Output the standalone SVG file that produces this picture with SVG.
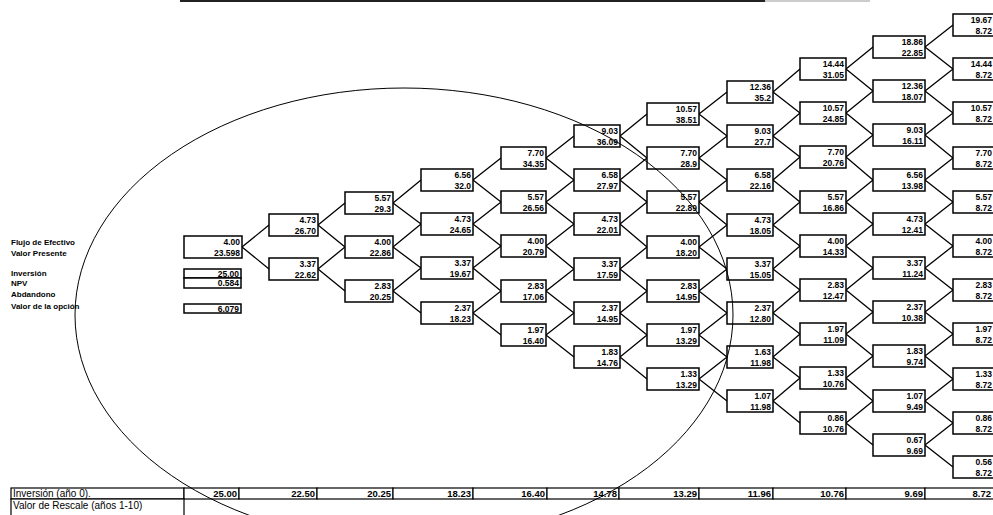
<svg xmlns="http://www.w3.org/2000/svg" width="993" height="515" viewBox="0 0 993 515">
<style>
text{font-family:"Liberation Sans",Arial,sans-serif;fill:#000}
.n rect{fill:#fff;stroke:#000;stroke-width:1.5}
.n text{font-size:8.5px;font-weight:bold;text-anchor:end}
.lbl{font-size:8px;font-weight:bold}
.sb{fill:#fff;stroke:#000;stroke-width:1.5}
.sv{font-size:8.5px;font-weight:bold;text-anchor:end}
.cell{fill:#fff;stroke:#000;stroke-width:1.2}
.tv{font-size:9.5px;font-weight:bold;text-anchor:end}
.tl{font-size:10px}
#edges path{fill:none;stroke:#000;stroke-width:1.3;stroke-linejoin:round}
</style>
<rect width="993" height="515" fill="#fff"/>
<line x1="180" y1="1" x2="765" y2="1" stroke="#222" stroke-width="2"/>
<line x1="765" y1="1" x2="870" y2="1" stroke="#ccc" stroke-width="2"/>

<g id="edges">
<path d="M269 225 L242 247 L269 269"/>
<path d="M345 203 L318 225 L345 247 L318 269 L345 291"/>
<path d="M421 180 L393 203 L421 224 L393 247 L421 268 L393 291 L421 313"/>
<path d="M501 158 L473 180 L501 202 L473 224 L501 246 L473 268 L501 291 L473 313 L501 335"/>
<path d="M574 136 L546 158 L574 180 L546 202 L574 224 L546 246 L574 269 L546 291 L574 313 L546 335 L574 357"/>
<path d="M647 114 L620 136 L647 158 L620 180 L647 202 L620 224 L647 247 L620 269 L647 291 L620 313 L647 335 L620 357 L647 379"/>
<path d="M727 92 L699 114 L727 136 L699 158 L727 180 L699 202 L727 225 L699 247 L727 269 L699 291 L727 313 L699 335 L727 357 L699 379 L727 401"/>
<path d="M800 69 L773 92 L800 113 L773 136 L800 157 L773 180 L800 202 L773 225 L800 246 L773 269 L800 290 L773 313 L800 334 L773 357 L800 378 L773 401 L800 423"/>
<path d="M873 47 L846 69 L873 91 L846 113 L873 135 L846 157 L873 180 L846 202 L873 224 L846 246 L873 268 L846 290 L873 312 L846 334 L873 356 L846 378 L873 401 L846 423 L873 445"/>
<path d="M953 25 L925 47 L953 69 L925 91 L953 113 L925 135 L953 158 L925 180 L953 202 L925 224 L953 246 L925 268 L953 290 L925 312 L953 334 L925 356 L953 379 L925 401 L953 423 L925 445 L953 467"/>
</g>

<!-- column 0 -->
<g id="n0-0" class="n" transform="translate(184,236)"><rect width="58" height="22"/><text x="56" y="9">4.00</text><text x="56" y="19.5">23.598</text></g>
<!-- column 1 -->
<g id="n1-0" class="n" transform="translate(269,214)"><rect width="49" height="22"/><text x="47" y="9">4.73</text><text x="47" y="19.5">26.70</text></g>
<g id="n1-1" class="n" transform="translate(269,258)"><rect width="49" height="22"/><text x="47" y="9">3.37</text><text x="47" y="19.5">22.62</text></g>
<!-- column 2 -->
<g id="n2-0" class="n" transform="translate(345,192)"><rect width="48" height="22"/><text x="46" y="9">5.57</text><text x="46" y="19.5">29.3</text></g>
<g id="n2-1" class="n" transform="translate(345,236)"><rect width="48" height="22"/><text x="46" y="9">4.00</text><text x="46" y="19.5">22.86</text></g>
<g id="n2-2" class="n" transform="translate(345,280)"><rect width="48" height="22"/><text x="46" y="9">2.83</text><text x="46" y="19.5">20.25</text></g>
<!-- column 3 -->
<g id="n3-0" class="n" transform="translate(421,169)"><rect width="52" height="22"/><text x="50" y="9">6.56</text><text x="50" y="19.5">32.0</text></g>
<g id="n3-1" class="n" transform="translate(421,213)"><rect width="52" height="22"/><text x="50" y="9">4.73</text><text x="50" y="19.5">24.65</text></g>
<g id="n3-2" class="n" transform="translate(421,257)"><rect width="52" height="22"/><text x="50" y="9">3.37</text><text x="50" y="19.5">19.67</text></g>
<g id="n3-3" class="n" transform="translate(421,302)"><rect width="52" height="22"/><text x="50" y="9">2.37</text><text x="50" y="19.5">18.23</text></g>
<!-- column 4 -->
<g id="n4-0" class="n" transform="translate(501,147)"><rect width="45" height="22"/><text x="43" y="9">7.70</text><text x="43" y="19.5">34.35</text></g>
<g id="n4-1" class="n" transform="translate(501,191)"><rect width="45" height="22"/><text x="43" y="9">5.57</text><text x="43" y="19.5">26.56</text></g>
<g id="n4-2" class="n" transform="translate(501,235)"><rect width="45" height="22"/><text x="43" y="9">4.00</text><text x="43" y="19.5">20.79</text></g>
<g id="n4-3" class="n" transform="translate(501,280)"><rect width="45" height="22"/><text x="43" y="9">2.83</text><text x="43" y="19.5">17.06</text></g>
<g id="n4-4" class="n" transform="translate(501,324)"><rect width="45" height="22"/><text x="43" y="9">1.97</text><text x="43" y="19.5">16.40</text></g>
<!-- column 5 -->
<g id="n5-0" class="n" transform="translate(574,125)"><rect width="46" height="22"/><text x="44" y="9">9.03</text><text x="44" y="19.5">36.09</text></g>
<g id="n5-1" class="n" transform="translate(574,169)"><rect width="46" height="22"/><text x="44" y="9">6.58</text><text x="44" y="19.5">27.97</text></g>
<g id="n5-2" class="n" transform="translate(574,213)"><rect width="46" height="22"/><text x="44" y="9">4.73</text><text x="44" y="19.5">22.01</text></g>
<g id="n5-3" class="n" transform="translate(574,258)"><rect width="46" height="22"/><text x="44" y="9">3.37</text><text x="44" y="19.5">17.59</text></g>
<g id="n5-4" class="n" transform="translate(574,302)"><rect width="46" height="22"/><text x="44" y="9">2.37</text><text x="44" y="19.5">14.95</text></g>
<g id="n5-5" class="n" transform="translate(574,346)"><rect width="46" height="22"/><text x="44" y="9">1.83</text><text x="44" y="19.5">14.76</text></g>
<!-- column 6 -->
<g id="n6-0" class="n" transform="translate(647,103)"><rect width="52" height="22"/><text x="50" y="9">10.57</text><text x="50" y="19.5">38.51</text></g>
<g id="n6-1" class="n" transform="translate(647,147)"><rect width="52" height="22"/><text x="50" y="9">7.70</text><text x="50" y="19.5">28.9</text></g>
<g id="n6-2" class="n" transform="translate(647,191)"><rect width="52" height="22"/><text x="50" y="9">5.57</text><text x="50" y="19.5">22.89</text></g>
<g id="n6-3" class="n" transform="translate(647,236)"><rect width="52" height="22"/><text x="50" y="9">4.00</text><text x="50" y="19.5">18.20</text></g>
<g id="n6-4" class="n" transform="translate(647,280)"><rect width="52" height="22"/><text x="50" y="9">2.83</text><text x="50" y="19.5">14.95</text></g>
<g id="n6-5" class="n" transform="translate(647,324)"><rect width="52" height="22"/><text x="50" y="9">1.97</text><text x="50" y="19.5">13.29</text></g>
<g id="n6-6" class="n" transform="translate(647,368)"><rect width="52" height="22"/><text x="50" y="9">1.33</text><text x="50" y="19.5">13.29</text></g>
<!-- column 7 -->
<g id="n7-0" class="n" transform="translate(727,81)"><rect width="46" height="22"/><text x="44" y="9">12.36</text><text x="44" y="19.5">35.2</text></g>
<g id="n7-1" class="n" transform="translate(727,125)"><rect width="46" height="22"/><text x="44" y="9">9.03</text><text x="44" y="19.5">27.7</text></g>
<g id="n7-2" class="n" transform="translate(727,169)"><rect width="46" height="22"/><text x="44" y="9">6.58</text><text x="44" y="19.5">22.16</text></g>
<g id="n7-3" class="n" transform="translate(727,214)"><rect width="46" height="22"/><text x="44" y="9">4.73</text><text x="44" y="19.5">18.05</text></g>
<g id="n7-4" class="n" transform="translate(727,258)"><rect width="46" height="22"/><text x="44" y="9">3.37</text><text x="44" y="19.5">15.05</text></g>
<g id="n7-5" class="n" transform="translate(727,302)"><rect width="46" height="22"/><text x="44" y="9">2.37</text><text x="44" y="19.5">12.80</text></g>
<g id="n7-6" class="n" transform="translate(727,346)"><rect width="46" height="22"/><text x="44" y="9">1.63</text><text x="44" y="19.5">11.98</text></g>
<g id="n7-7" class="n" transform="translate(727,390)"><rect width="46" height="22"/><text x="44" y="9">1.07</text><text x="44" y="19.5">11.98</text></g>
<!-- column 8 -->
<g id="n8-0" class="n" transform="translate(800,58)"><rect width="46" height="22"/><text x="44" y="9">14.44</text><text x="44" y="19.5">31.05</text></g>
<g id="n8-1" class="n" transform="translate(800,102)"><rect width="46" height="22"/><text x="44" y="9">10.57</text><text x="44" y="19.5">24.85</text></g>
<g id="n8-2" class="n" transform="translate(800,146)"><rect width="46" height="22"/><text x="44" y="9">7.70</text><text x="44" y="19.5">20.76</text></g>
<g id="n8-3" class="n" transform="translate(800,191)"><rect width="46" height="22"/><text x="44" y="9">5.57</text><text x="44" y="19.5">16.86</text></g>
<g id="n8-4" class="n" transform="translate(800,235)"><rect width="46" height="22"/><text x="44" y="9">4.00</text><text x="44" y="19.5">14.33</text></g>
<g id="n8-5" class="n" transform="translate(800,279)"><rect width="46" height="22"/><text x="44" y="9">2.83</text><text x="44" y="19.5">12.47</text></g>
<g id="n8-6" class="n" transform="translate(800,323)"><rect width="46" height="22"/><text x="44" y="9">1.97</text><text x="44" y="19.5">11.09</text></g>
<g id="n8-7" class="n" transform="translate(800,367)"><rect width="46" height="22"/><text x="44" y="9">1.33</text><text x="44" y="19.5">10.76</text></g>
<g id="n8-8" class="n" transform="translate(800,412)"><rect width="46" height="22"/><text x="44" y="9">0.86</text><text x="44" y="19.5">10.76</text></g>
<!-- column 9 -->
<g id="n9-0" class="n" transform="translate(873,36)"><rect width="52" height="22"/><text x="50" y="9">18.86</text><text x="50" y="19.5">22.85</text></g>
<g id="n9-1" class="n" transform="translate(873,80)"><rect width="52" height="22"/><text x="50" y="9">12.36</text><text x="50" y="19.5">18.07</text></g>
<g id="n9-2" class="n" transform="translate(873,124)"><rect width="52" height="22"/><text x="50" y="9">9.03</text><text x="50" y="19.5">16.11</text></g>
<g id="n9-3" class="n" transform="translate(873,169)"><rect width="52" height="22"/><text x="50" y="9">6.56</text><text x="50" y="19.5">13.98</text></g>
<g id="n9-4" class="n" transform="translate(873,213)"><rect width="52" height="22"/><text x="50" y="9">4.73</text><text x="50" y="19.5">12.41</text></g>
<g id="n9-5" class="n" transform="translate(873,257)"><rect width="52" height="22"/><text x="50" y="9">3.37</text><text x="50" y="19.5">11.24</text></g>
<g id="n9-6" class="n" transform="translate(873,301)"><rect width="52" height="22"/><text x="50" y="9">2.37</text><text x="50" y="19.5">10.38</text></g>
<g id="n9-7" class="n" transform="translate(873,345)"><rect width="52" height="22"/><text x="50" y="9">1.83</text><text x="50" y="19.5">9.74</text></g>
<g id="n9-8" class="n" transform="translate(873,390)"><rect width="52" height="22"/><text x="50" y="9">1.07</text><text x="50" y="19.5">9.49</text></g>
<g id="n9-9" class="n" transform="translate(873,434)"><rect width="52" height="22"/><text x="50" y="9">0.67</text><text x="50" y="19.5">9.69</text></g>
<!-- column 10 -->
<g id="n10-0" class="n" transform="translate(953,14)"><rect width="50" height="22"/><text x="39" y="9">19.67</text><text x="39" y="19.5">8.72</text></g>
<g id="n10-1" class="n" transform="translate(953,58)"><rect width="50" height="22"/><text x="39" y="9">14.44</text><text x="39" y="19.5">8.72</text></g>
<g id="n10-2" class="n" transform="translate(953,102)"><rect width="50" height="22"/><text x="39" y="9">10.57</text><text x="39" y="19.5">8.72</text></g>
<g id="n10-3" class="n" transform="translate(953,147)"><rect width="50" height="22"/><text x="39" y="9">7.70</text><text x="39" y="19.5">8.72</text></g>
<g id="n10-4" class="n" transform="translate(953,191)"><rect width="50" height="22"/><text x="39" y="9">5.57</text><text x="39" y="19.5">8.72</text></g>
<g id="n10-5" class="n" transform="translate(953,235)"><rect width="50" height="22"/><text x="39" y="9">4.00</text><text x="39" y="19.5">8.72</text></g>
<g id="n10-6" class="n" transform="translate(953,279)"><rect width="50" height="22"/><text x="39" y="9">2.83</text><text x="39" y="19.5">8.72</text></g>
<g id="n10-7" class="n" transform="translate(953,323)"><rect width="50" height="22"/><text x="39" y="9">1.97</text><text x="39" y="19.5">8.72</text></g>
<g id="n10-8" class="n" transform="translate(953,368)"><rect width="50" height="22"/><text x="39" y="9">1.33</text><text x="39" y="19.5">8.72</text></g>
<g id="n10-9" class="n" transform="translate(953,412)"><rect width="50" height="22"/><text x="39" y="9">0.86</text><text x="39" y="19.5">8.72</text></g>
<g id="n10-10" class="n" transform="translate(953,456)"><rect width="50" height="22"/><text x="39" y="9">0.56</text><text x="39" y="19.5">8.72</text></g>

<!-- left labels -->
<g id="labels">
<text class="lbl" x="11" y="245">Flujo de Efectivo</text>
<text class="lbl" x="11" y="256">Valor Presente</text>
<text class="lbl" x="11" y="276">Inversión</text>
<text class="lbl" x="11" y="286">NPV</text>
<text class="lbl" x="11" y="297">Abdandono</text>
<text class="lbl" x="11" y="309">Valor de la opción</text>
</g>
<g id="inv-box"><rect class="sb" x="184" y="269" width="57" height="9"/><text class="sv" x="239" y="276.5">25.00</text></g>
<g id="npv-box"><rect class="sb" x="184" y="278" width="57" height="10"/><text class="sv" x="239" y="286">0.584</text></g>
<g id="opt-box"><rect class="sb" x="184" y="304" width="57" height="9"/><text class="sv" x="239" y="311.5">6.079</text></g>

<!-- bottom table -->
<g id="table">
<rect class="cell" x="11" y="488" width="173" height="11"/>
<rect class="cell" x="184" y="488" width="55" height="11"/>
<rect class="cell" x="239" y="488" width="78" height="11"/>
<rect class="cell" x="317" y="488" width="76" height="11"/>
<rect class="cell" x="393" y="488" width="80" height="11"/>
<rect class="cell" x="473" y="488" width="74" height="11"/>
<rect class="cell" x="547" y="488" width="72" height="11"/>
<rect class="cell" x="619" y="488" width="80" height="11"/>
<rect class="cell" x="699" y="488" width="74" height="11"/>
<rect class="cell" x="773" y="488" width="73" height="11"/>
<rect class="cell" x="846" y="488" width="79" height="11"/>
<rect class="cell" x="925" y="488" width="80" height="11"/>
<rect class="cell" x="11" y="499" width="173" height="20"/>
<text class="tl" x="13" y="497">Inversión (año 0).</text>
<text class="tl" x="13" y="508.5">Valor de Rescale (años 1-10)</text>
<text class="tv" x="237" y="497">25.00</text>
<text class="tv" x="315" y="497">22.50</text>
<text class="tv" x="391" y="497">20.25</text>
<text class="tv" x="471" y="497">18.23</text>
<text class="tv" x="545" y="497">16.40</text>
<text class="tv" x="617" y="497">14.78</text>
<text class="tv" x="697" y="497">13.29</text>
<text class="tv" x="771" y="497">11.96</text>
<text class="tv" x="844" y="497">10.76</text>
<text class="tv" x="923" y="497">9.69</text>
<text class="tv" x="991" y="497">8.72</text>
</g>

<ellipse id="circle" cx="404" cy="315" rx="329" ry="227" fill="none" stroke="#000" stroke-width="1"/>
</svg>
